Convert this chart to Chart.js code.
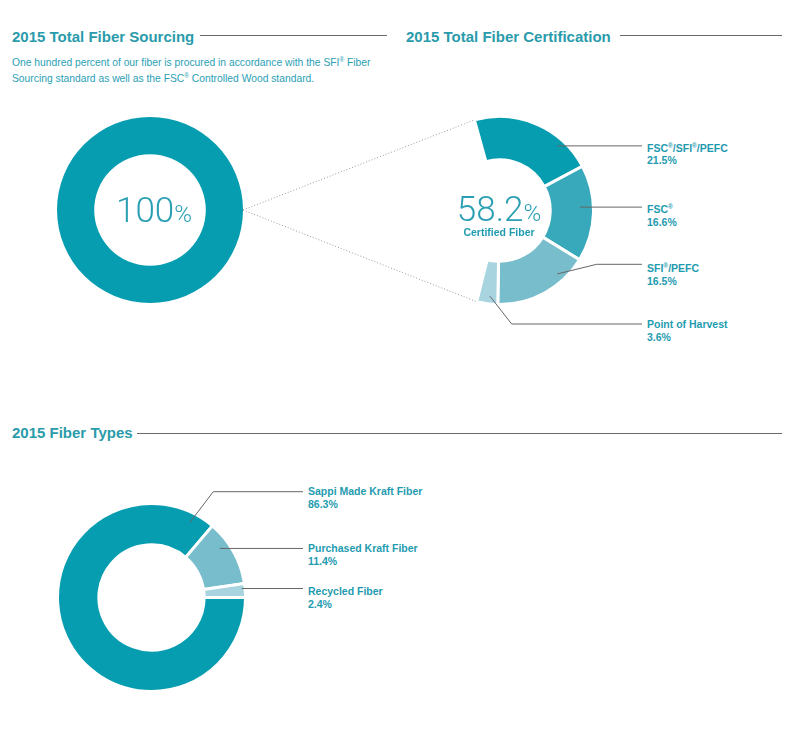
<!DOCTYPE html>
<html><head><meta charset="utf-8">
<script src="https://cdn.jsdelivr.net/npm/chart.js@4.4.0/dist/chart.umd.min.js"></script>
<style>
body{margin:0;background:#fff;font-family:"Liberation Sans",Arial,sans-serif}
#pg{position:relative;width:798px;height:745px;overflow:hidden}
.ttl{position:absolute;font-weight:bold;font-size:15px;line-height:18px;color:#2a9bab;white-space:nowrap}
.rule{position:absolute;height:1px;background:#6a6a6a}
.sub{position:absolute;left:12px;top:53px;font-size:10.3px;line-height:13px;color:#2aa0b5;white-space:nowrap}
.box{position:absolute}
.lbl{position:absolute;font-weight:bold;font-size:10.5px;line-height:13.3px;color:#1f9bb0;white-space:nowrap}
.reg{font-size:.62em;vertical-align:.55em}
.big{position:absolute;text-align:center;font-family:Roboto,"Liberation Sans",sans-serif;font-weight:300;color:#2a9fb3;white-space:nowrap;font-size:35px;line-height:35px}
.big small{font-size:24px}
.cf{position:absolute;text-align:center;font-weight:bold;font-size:10.5px;color:#1f9bb0;white-space:nowrap}
#ov{position:absolute;left:0;top:0;pointer-events:none}
</style></head>
<body><div id="pg">
<div class="ttl" style="left:12px;top:28px">2015 Total Fiber Sourcing</div>
<div class="rule" style="left:200px;width:187px;top:35px"></div>
<div class="sub">One hundred percent of our fiber is procured in accordance with the SFI<span class="reg">®</span> Fiber<br>Sourcing standard as well as the FSC<span class="reg">®</span> Controlled Wood standard.</div>
<div class="ttl" style="left:406px;top:28px">2015 Total Fiber Certification</div>
<div class="rule" style="left:620px;width:162px;top:35px"></div>
<div class="ttl" style="left:12px;top:424px">2015 Fiber Types</div>
<div class="rule" style="left:137px;width:645px;top:433px"></div>

<div class="box" id="b1" style="left:57px;top:117px;width:186px;height:186px"><canvas id="c1"></canvas></div>
<div class="box" id="b2" style="left:403.5px;top:114.5px;width:191px;height:191px"><canvas id="c2"></canvas></div>
<div class="box" id="b3" style="left:55.5px;top:501.5px;width:191px;height:191px"><canvas id="c3"></canvas></div>

<div class="big" style="left:61px;width:186px;top:193px">100<small>%</small></div>
<div class="big" style="left:419px;width:160px;top:191.5px">58.2<small>%</small></div>
<div class="cf" style="left:419px;width:160px;top:226px">Certified Fiber</div>
<div id="labels"></div>
<canvas id="ov"></canvas>
</div>
<script>
// data
const srcLabels=["Total Fiber Sourcing"];
const srcValues=[100];
const certLabels=["FSC<span class=\"reg\">®</span>/SFI<span class=\"reg\">®</span>/PEFC","FSC<span class=\"reg\">®</span>","SFI<span class=\"reg\">®</span>/PEFC","Point of Harvest"];
const certValues=[21.5,16.6,16.5,3.6];
const certColors=["#079db1","#38a8bb","#78bdcc","#a7d4df"];
const typeLabels=["Sappi Made Kraft Fiber","Purchased Kraft Fiber","Recycled Fiber"];
const typeValues=[86.3,11.4,2.4];
const typeColors=["#079db1","#78bdcc","#a7d4df"];

const certTotal=certValues.reduce((s,v)=>s+v,0);
const fmt=v=>v.toFixed(1)+"%";

function donut(id,values,colors,cutout,rotation,bw){
  return new Chart(document.getElementById(id),{type:"doughnut",
    data:{labels:values.map((v,i)=>String(i)),datasets:[{data:values,backgroundColor:colors,borderColor:"#fff",borderWidth:bw,hoverOffset:0}]},
    options:{responsive:true,maintainAspectRatio:false,animation:false,events:[],cutout,rotation,
      layout:{padding:0},plugins:{legend:{display:false},tooltip:{enabled:false}}}});
}

const ch1=donut("c1",srcValues,["#079db1"],"60%",0,0);
// remaining share of the circle left empty so the ring keeps its centre
const ch2=donut("c2",[...certValues,100-certTotal],[...certColors,"rgba(0,0,0,0)"],"54%",-15.5,[3,3,3,3,0]);
const ch3=donut("c3",typeValues,typeColors,"56%",90,3);

// leaders: [t along arc, radius frac, elbowX|null, lineY, labelX, labelTop]
const certLead=[[0.74,0.83,null,143,647,138.5],[0.43,0.69,null,206.7,647,200.2],[0.27,0.81,596.7,264.3,647,259.2],[0.41,0.82,511.7,324,647,317.5]];
const typeLead=[[0.957,0.76,213.3,491.7,308,485.2],[0.34,0.76,null,548.3,308,541.8],[0.34,0.92,null,588.3,308,584.5]];

const lb=document.getElementById("labels");
certLead.forEach((d,i)=>lb.insertAdjacentHTML("beforeend",`<div class="lbl" style="left:${d[4]}px;top:${d[5]}px">${certLabels[i]}<br>${fmt(certValues[i])}</div>`));
typeLead.forEach((d,i)=>lb.insertAdjacentHTML("beforeend",`<div class="lbl" style="left:${d[4]}px;top:${d[5]}px">${typeLabels[i]}<br>${fmt(typeValues[i])}</div>`));

function arcPt(ch,i,t,rf){
  const a=ch.getDatasetMeta(0).data[i],box=ch.canvas.parentNode;
  const ang=a.startAngle+(a.endAngle-a.startAngle)*t;
  const r=a.innerRadius+(a.outerRadius-a.innerRadius)*rf;
  return [box.offsetLeft+a.x+Math.cos(ang)*r,box.offsetTop+a.y+Math.sin(ang)*r];
}

const ov=document.getElementById("ov"),dpr=window.devicePixelRatio||1;
ov.width=798*dpr;ov.height=745*dpr;ov.style.width="798px";ov.style.height="745px";
const g=ov.getContext("2d");g.scale(dpr,dpr);

// dotted connectors between sourcing ring and certification ring
g.strokeStyle="#9a9a9a";g.lineWidth=1;g.setLineDash([1,2]);
const p0=arcPt(ch1,0,0.25,1);
const pA=arcPt(ch2,0,0,1),pB=arcPt(ch2,certValues.length-1,1,1);
g.beginPath();g.moveTo(p0[0],p0[1]);g.lineTo(pA[0],pA[1]);g.moveTo(p0[0],p0[1]);g.lineTo(pB[0],pB[1]);g.stroke();
g.setLineDash([]);

function leaders(ch,list){
  list.forEach((d,i)=>{
    const p=arcPt(ch,i,d[0],d[1]);
    g.strokeStyle="#666";g.beginPath();g.moveTo(p[0],p[1]);
    if(d[2]!==null){g.lineTo(d[2],d[3]);g.lineTo(d[4]-5,d[3])}else g.lineTo(d[4]-5,p[1]);
    g.stroke();
  });
}
leaders(ch2,certLead);
leaders(ch3,typeLead);
</script>
</body></html>
